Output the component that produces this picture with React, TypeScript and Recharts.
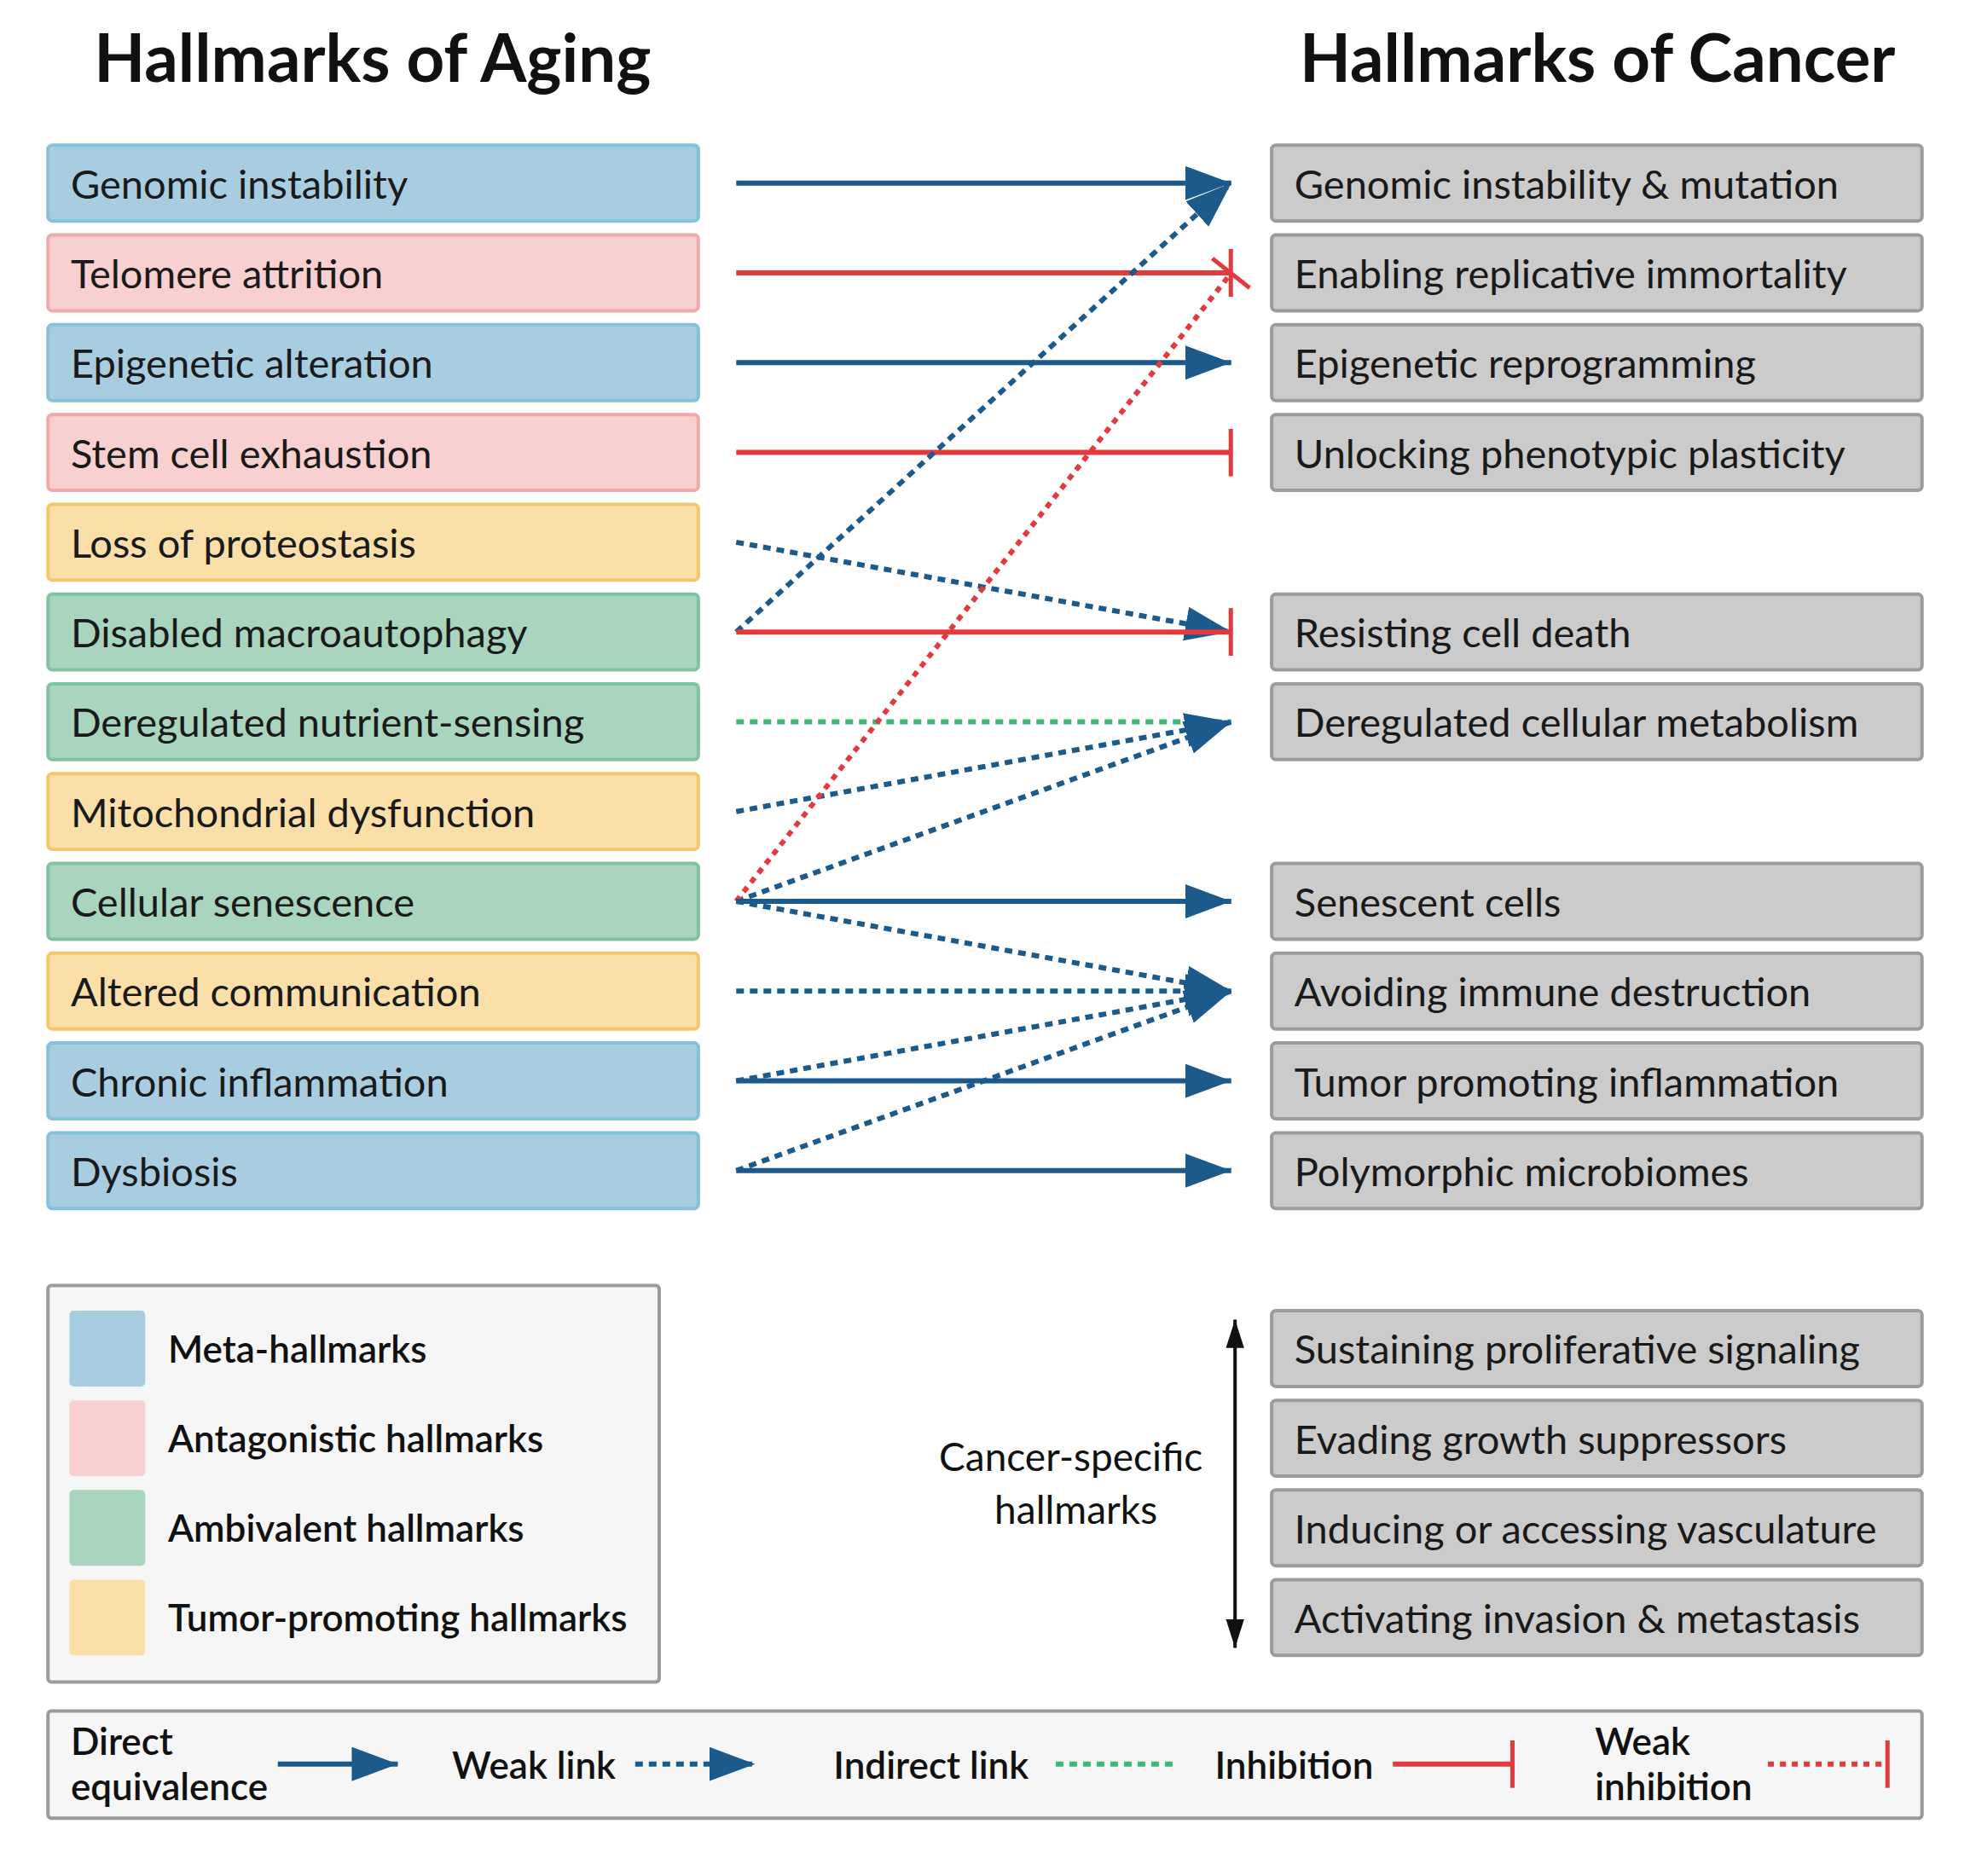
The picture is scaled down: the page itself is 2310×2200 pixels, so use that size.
import React from "react"
import { ScatterChart, Scatter, XAxis, YAxis, ReferenceArea, ReferenceLine } from "recharts"

// layout is in the 1560-wide frame of the source figure, scaled to 2310
const S = 2310 / 1560
const W = 2310
const H = 2200

const agingLabels = [
  "Genomic instability", "Telomere attrition", "Epigenetic alteration", "Stem cell exhaustion",
  "Loss of proteostasis", "Disabled macroautophagy", "Deregulated nutrient-sensing",
  "Mitochondrial dysfunction", "Cellular senescence", "Altered communication",
  "Chronic inflammation", "Dysbiosis",
]
const agingKind = ["meta", "antag", "meta", "antag", "tumor", "ambi", "ambi", "tumor", "ambi", "tumor", "meta", "meta"]

// cancer hallmarks aligned to aging rows
const cancerLabels = [
  "Genomic instability & mutation", "Enabling replicative immortality", "Epigenetic reprogramming",
  "Unlocking phenotypic plasticity", "Resisting cell death", "Deregulated cellular metabolism",
  "Senescent cells", "Avoiding immune destruction", "Tumor promoting inflammation", "Polymorphic microbiomes",
]
const cancerRows = [0, 1, 2, 3, 5, 6, 8, 9, 10, 11]

const specificLabels = [
  "Sustaining proliferative signaling", "Evading growth suppressors",
  "Inducing or accessing vasculature", "Activating invasion & metastasis",
]

// [from aging row, to row, link type]
const links: [number, number, string][] = [
  [0, 0, "direct"], [1, 1, "inhib"], [2, 2, "direct"], [3, 3, "inhib"],
  [4, 5, "weak"], [5, 0, "weak"], [5, 5, "inhib"], [6, 6, "indirect"],
  [7, 6, "weak"], [8, 6, "weak"], [8, 1, "weakInhib"], [8, 8, "direct"], [8, 9, "weak"],
  [9, 9, "weak"], [10, 10, "direct"], [10, 9, "weak"], [11, 11, "direct"], [11, 9, "weak"],
]

const legendKinds = ["meta", "antag", "ambi", "tumor"]
const legendLabels = ["Meta-hallmarks", "Antagonistic hallmarks", "Ambivalent hallmarks", "Tumor-promoting hallmarks"]
const linkLegend: [string, string[]][] = [
  ["direct", ["Direct", "equivalence"]], ["weak", ["Weak link"]], ["indirect", ["Indirect link"]],
  ["inhib", ["Inhibition"]], ["weakInhib", ["Weak", "inhibition"]],
]

const fills: Record<string, [string, string]> = {
  meta: ["#a9cde0", "#86c1dc"],
  antag: ["#f8d0d0", "#f1a9aa"],
  ambi: ["#a9d5bf", "#80c3a2"],
  tumor: ["#fbdfa9", "#f4c76c"],
  gray: ["#cbcbcb", "#9b9b9b"],
}
const BLUE = "#1b5a8b"
const RED = "#e23a3f"
const GREEN = "#3cb878"
const FONT = "Lato, 'Open Sans', sans-serif"

const rowY = (i: number) => 145 + 71.1 * i
const specY = (i: number) => 1068 + 71 * i

const linkStyle = (t: string) => {
  const dash = "9 7"
  switch (t) {
    case "direct": return { stroke: BLUE, strokeDasharray: undefined, markerEnd: "url(#arrowBlue)" }
    case "weak": return { stroke: BLUE, strokeDasharray: dash, markerEnd: "url(#arrowBlue)" }
    case "indirect": return { stroke: GREEN, strokeDasharray: dash, markerEnd: undefined }
    case "inhib": return { stroke: RED, strokeDasharray: undefined, markerEnd: "url(#barRed)" }
    default: return { stroke: RED, strokeDasharray: "7 7", markerEnd: "url(#barRed)" }
  }
}

const boxLabel = (text: string, size = 47, dx = 18) => (props: any) => {
  const vb = props.viewBox
  return (
    <text x={vb.x + dx * S} y={vb.y + vb.height / 2} dominantBaseline="central"
      fontFamily={FONT} fontSize={size} fill="#1a1a1a">{text}</text>
  )
}

const Box = (x1: number, x2: number, yc: number, kind: string, text: string, key: string, h = 60) => (
  <ReferenceArea key={key} x1={x1} x2={x2} y1={yc - h / 2} y2={yc + h / 2}
    fill={fills[kind][0]} fillOpacity={1} stroke={fills[kind][1]} strokeWidth={4}
    radius={5} ifOverflow="visible" label={text ? boxLabel(text) : undefined} />
)

const Txt = (x: number, y: number, lines: string[], key: string, size = 43, anchor = "start", weight = 400) => (
  <ReferenceArea key={key} x1={x} x2={x + 1} y1={y} y2={y + 1} fillOpacity={0} strokeOpacity={0}
    ifOverflow="visible"
    label={(p: any) => (
      <text x={p.viewBox.x} y={p.viewBox.y} textAnchor={anchor as any} fontFamily={FONT}
        fontSize={size} fontWeight={weight} fill="#111">
        {lines.map((l, i) => <tspan key={i} x={p.viewBox.x} dy={i === 0 ? 0 : size * 1.2}>{l}</tspan>)}
      </text>
    )} />
)

const Seg = (x1: number, y1: number, x2: number, y2: number, t: string, key: string, extra: any = {}) => {
  const st = linkStyle(t)
  return (
    <ReferenceLine key={key} segment={[{ x: x1, y: y1 }, { x: x2, y: y2 }]} ifOverflow="visible"
      stroke={st.stroke} strokeWidth={6} strokeDasharray={st.strokeDasharray}
      markerEnd={st.markerEnd} {...extra} />
  )
}

export default function App() {
  const legendX = [220, 503, 836, 1103, 1400]
  const legendTextX = [56, 358, 660, 962, 1263]
  return (
    <div style={{ position: "absolute", left: 0, top: 0, width: W, height: H, background: "#fff" }}>
      <svg width={0} height={0} style={{ position: "absolute" }}>
        <defs>
          <marker id="arrowBlue" markerUnits="userSpaceOnUse" markerWidth={60} markerHeight={44}
            refX={54} refY={20} orient="auto-start-reverse" viewBox="0 0 60 44">
            <path d="M0,0 L54,20 L0,40 Z" fill={BLUE} />
          </marker>
          <marker id="arrowBlack" markerUnits="userSpaceOnUse" markerWidth={40} markerHeight={60}
            refX={50} refY={16} orient="auto-start-reverse" viewBox="0 0 60 40">
            <path d="M0,0 L50,16 L0,32 Z" fill="#111" />
          </marker>
          <marker id="barRed" markerUnits="userSpaceOnUse" markerWidth={8} markerHeight={56}
            refX={4} refY={28} orient="auto" viewBox="0 0 8 56">
            <rect x={1} y={0} width={5} height={56} fill={RED} />
          </marker>
        </defs>
      </svg>
      <ScatterChart width={W} height={H} margin={{ top: 0, right: 0, bottom: 0, left: 0 }}>
        <XAxis type="number" dataKey="x" domain={[0, 1560]} hide allowDataOverflow />
        <YAxis type="number" dataKey="y" domain={[0, H / S]} reversed hide allowDataOverflow />
        <Scatter data={[]} isAnimationActive={false} />

        {Txt(295, 65, ["Hallmarks of Aging"], "t1", 78, "middle", 700)}
        {Txt(1265, 65, ["Hallmarks of Cancer"], "t2", 78, "middle", 700)}

        {agingLabels.map((l, i) => Box(38, 553, rowY(i), agingKind[i], l, "a" + i))}
        {cancerLabels.map((l, i) => Box(1007, 1522, rowY(cancerRows[i]), "gray", l, "c" + i))}
        {specificLabels.map((l, i) => Box(1007, 1522, specY(i), "gray", l, "s" + i))}

        {links.map(([f, t, type], i) => Seg(583, rowY(f), 975, rowY(t), type, "l" + i))}

        {/* cancer-specific bracket */}
        <ReferenceLine segment={[{ x: 978, y: 1045 }, { x: 978, y: 1305 }]} ifOverflow="visible"
          stroke="#111" strokeWidth={4} markerStart="url(#arrowBlack)" markerEnd="url(#arrowBlack)" />
        {Txt(848, 1165, ["Cancer-specific"], "cs1", 46, "middle")}
        {Txt(852, 1207, ["hallmarks"], "cs2", 46, "middle")}

        {/* colour legend */}
        <ReferenceArea x1={38} x2={522} y1={1018} y2={1332} fill="#f6f6f6" fillOpacity={1}
          stroke="#9b9b9b" strokeWidth={4} radius={4} ifOverflow="visible" />
        {legendKinds.map((k, i) => (
          <ReferenceArea key={"lk" + i} x1={55} x2={115} y1={specY(i) - 30} y2={specY(i) + 30}
            fill={fills[k][0]} fillOpacity={1} stroke="none" radius={5} ifOverflow="visible" />
        ))}
        {legendLabels.map((l, i) => Txt(133, specY(i) + 11, [l], "ll" + i, 44, "start", 600))}

        {/* link legend */}
        <ReferenceArea x1={38} x2={1522} y1={1355} y2={1440} fill="#f6f6f6" fillOpacity={1}
          stroke="#9b9b9b" strokeWidth={4} radius={4} ifOverflow="visible" />
        {linkLegend.map(([t, lines], i) =>
          Txt(legendTextX[i], lines.length > 1 ? 1390 : 1409, lines, "lt" + i, 44, "start", 600))}
        {linkLegend.map(([t], i) => Seg(legendX[i], 1397, legendX[i] + 95, 1397, t, "ls" + i))}
      </ScatterChart>
    </div>
  )
}
